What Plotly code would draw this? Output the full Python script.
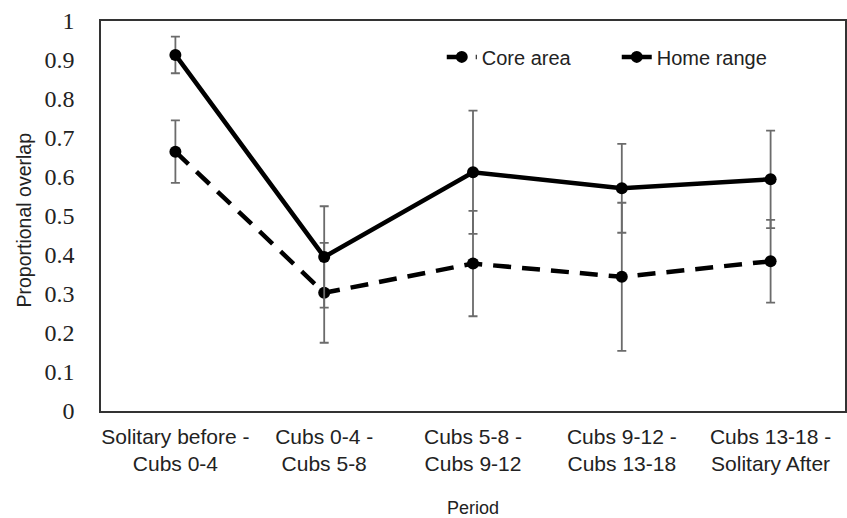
import plotly.graph_objects as go

periods = ["Solitary before -<br>Cubs 0-4", "Cubs 0-4 -<br>Cubs 5-8", "Cubs 5-8 -<br>Cubs 9-12",
           "Cubs 9-12 -<br>Cubs 13-18", "Cubs 13-18 -<br>Solitary After"]
core_area = [0.665, 0.303, 0.378, 0.344, 0.384]
core_err = [0.08, 0.128, 0.135, 0.19, 0.106]
home_range = [0.913, 0.395, 0.612, 0.571, 0.594]
home_err = [0.047, 0.13, 0.158, 0.114, 0.125]
y_ticks = [0, 0.1, 0.2, 0.3, 0.4, 0.5, 0.6, 0.7, 0.8, 0.9, 1]

err_color = "#6b6b6b"
sans = "Liberation Sans, Arial"

fig = go.Figure()
fig.add_trace(go.Scatter(
    x=periods, y=core_area, name="Core area", mode="lines+markers",
    line=dict(color="black", width=4.5, dash="18px,11px"),
    marker=dict(color="black", size=12),
    error_y=dict(type="data", array=core_err, visible=True, color=err_color, thickness=1.8, width=4.5),
))
fig.add_trace(go.Scatter(
    x=periods, y=home_range, name="Home range", mode="lines+markers",
    line=dict(color="black", width=4.5),
    marker=dict(color="black", size=12),
    error_y=dict(type="data", array=home_err, visible=True, color=err_color, thickness=1.8, width=4.5),
))

fig.update_layout(
    width=847, height=518,
    margin=dict(l=101, r=2, t=21, b=107, autoexpand=False),
    paper_bgcolor="white", plot_bgcolor="white",
    showlegend=True,
    legend=dict(orientation="h", x=0.458, y=0.908, xanchor="left", yanchor="middle",
                font=dict(family=sans, size=20, color="#222"),
                bgcolor="rgba(0,0,0,0)", entrywidth=130, entrywidthmode="pixels"),
    xaxis=dict(type="category", range=[-0.5, 4.5], showline=True, linecolor="#333", linewidth=1.5,
               mirror=True, showgrid=False, ticks="", ticklabelstandoff=6, automargin=False,
               tickfont=dict(family=sans, size=21, color="#222")),
    yaxis=dict(range=[0, 1], tickvals=y_ticks, showline=True, linecolor="#333", linewidth=1.5,
               mirror=True, showgrid=False, zeroline=False, ticks="", ticklabelstandoff=20,
               automargin=False,
               tickfont=dict(family="Liberation Serif, Times New Roman", size=24, color="#222")),
    annotations=[
        dict(text="Period", xref="paper", yref="paper", x=0.5, y=-0.249, xanchor="center",
             yanchor="middle", showarrow=False, font=dict(family=sans, size=18, color="#222")),
        dict(text="Proportional overlap", xref="paper", yref="paper", x=-0.104, y=0.49,
             xanchor="center", yanchor="middle", textangle=-90, showarrow=False,
             font=dict(family=sans, size=19.5, color="#222")),
    ],
)

fig.write_html("out.html", config={"displayModeBar": False},
               post_script="document.body.style.margin='0';document.body.style.overflow='hidden';")
